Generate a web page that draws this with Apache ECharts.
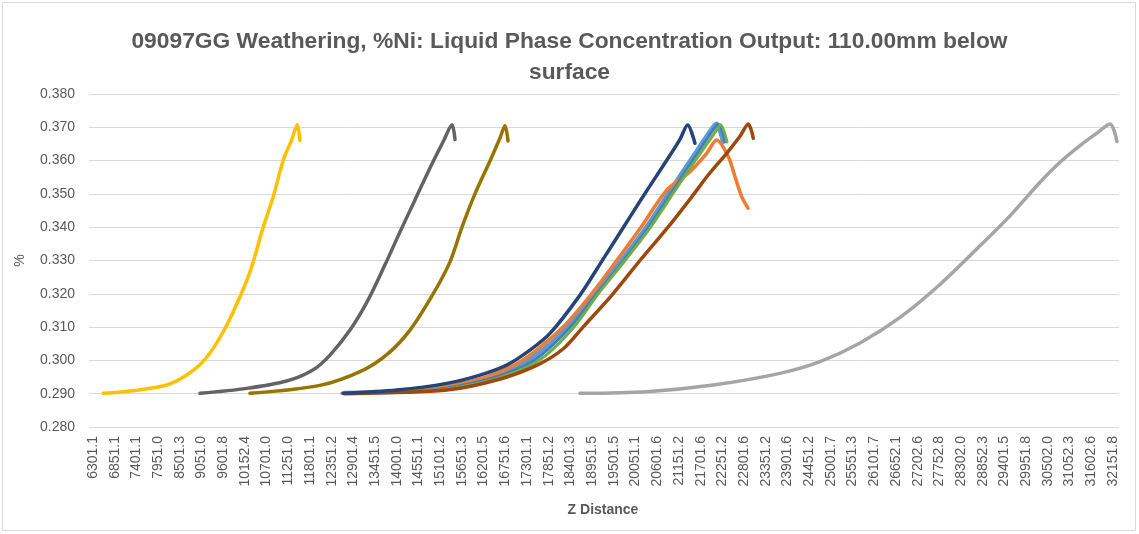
<!DOCTYPE html>
<html>
<head>
<meta charset="utf-8">
<title>09097GG Weathering</title>
<script src="https://cdn.jsdelivr.net/npm/echarts@6/dist/echarts.min.js"></script>
<style>
  html, body { margin: 0; padding: 0; background: #fff; }
  #chart { width: 1139px; height: 534px; }
</style>
</head>
<body>
<div id="chart"></div>
<script>
// category labels shown under the plot (Z Distance)
const zLabels = [
  "6301.1", "6851.1", "7401.1", "7951.0", "8501.3", "9051.0", "9601.8", "10152.4",
  "10701.0", "11251.0", "11801.1", "12351.2", "12901.4", "13451.5", "14001.0", "14551.1",
  "15101.2", "15651.3", "16201.5", "16751.6", "17301.1", "17851.2", "18401.3", "18951.5",
  "19501.5", "20051.1", "20601.6", "21151.2", "21701.6", "22251.2", "22801.6", "23351.2",
  "23901.6", "24451.2", "25001.7", "25551.3", "26101.7", "26652.1", "27202.6", "27752.8",
  "28302.0", "28852.3", "29401.5", "29951.8", "30502.0", "31052.3", "31602.6", "32151.8"
];

const yTicks = [0.28, 0.29, 0.30, 0.31, 0.32, 0.33, 0.34, 0.35, 0.36, 0.37, 0.38];

// [Z distance, %Ni]
const lightBlue = [[12688,0.2901],[14842,0.2913],[16109,0.2941],[16953,0.2976],[17546,0.3016],[18340,0.3100],[19024,0.3200],[19701,0.3300],[20334,0.3400],[21008,0.3522],[21515,0.3612],[22022,0.3700],[22108,0.3710],[22275,0.3657]];
const orange = [[12612,0.2901],[14842,0.2914],[16109,0.2944],[16920,0.2982],[17478,0.3025],[18213,0.3100],[18940,0.3200],[19574,0.3300],[20190,0.3400],[20848,0.3512],[21431,0.3567],[21855,0.3622],[22108,0.3662],[22402,0.3612],[22572,0.3552],[22742,0.3492],[22901,0.3457]];
const lightGray = [[18644,0.2901],[20334,0.2906],[22022,0.2926],[23712,0.2961],[24726,0.2996],[25740,0.3052],[26754,0.3129],[27767,0.3228],[28781,0.3344],[29541,0.3434],[30302,0.3535],[30809,0.3595],[31316,0.3645],[31739,0.3682],[32076,0.3710],[32253,0.3657]];
const yellow = [[6562,0.2901],[7322,0.2909],[8169,0.2926],[8676,0.2956],[9140,0.3003],[9603,0.3086],[10027,0.3191],[10323,0.3281],[10617,0.3401],[10871,0.3492],[11124,0.3602],[11337,0.3662],[11479,0.3708],[11547,0.3660]];
const midBlue = [[12713,0.2901],[14969,0.2913],[16236,0.2941],[17072,0.2975],[17655,0.3015],[18390,0.3099],[19062,0.3200],[19746,0.3300],[20380,0.3401],[21044,0.3519],[21558,0.3611],[22065,0.3700],[22154,0.3709],[22318,0.3656]];
const green = [[12764,0.2901],[15095,0.2912],[16363,0.2940],[17174,0.2974],[17757,0.3013],[18466,0.3097],[19100,0.3199],[19784,0.3300],[20418,0.3398],[21077,0.3515],[21609,0.3608],[22090,0.3689],[22204,0.3708],[22369,0.3656]];
const brown = [[12814,0.2901],[15265,0.2911],[16532,0.2941],[17546,0.2985],[18220,0.3035],[18720,0.3100],[19480,0.3200],[20164,0.3300],[20874,0.3400],[21482,0.3492],[21888,0.3556],[22361,0.3622],[22699,0.3673],[22909,0.3710],[23036,0.3667]];
const darkGray = [[9013,0.2901],[10197,0.2916],[11210,0.2938],[11884,0.2972],[12308,0.3016],[12815,0.3091],[13271,0.3181],[13701,0.3287],[14082,0.3386],[14462,0.3482],[14842,0.3578],[15197,0.3662],[15400,0.3708],[15476,0.3663]];
const darkGold = [[10280,0.2901],[12054,0.2925],[13152,0.2971],[13785,0.3021],[14335,0.3091],[14918,0.3199],[15349,0.3296],[15653,0.3400],[15982,0.3500],[16363,0.3599],[16616,0.3668],[16743,0.3705],[16819,0.3659]];
const navy = [[12645,0.2901],[13998,0.2911],[15265,0.2931],[16109,0.2956],[16786,0.2986],[17376,0.3031],[17883,0.3081],[18643,0.3196],[19234,0.3305],[19741,0.3399],[20164,0.3478],[20587,0.3555],[20924,0.3616],[21177,0.3664],[21372,0.3707],[21557,0.3652]];

// drawing order follows the Excel palette order
const seriesList = [
  { data: lightBlue, color: "#5B9BD5", width: 5 },
  { data: orange,    color: "#ED7D31", width: 3.5 },
  { data: lightGray, color: "#A5A5A5", width: 3.5 },
  { data: yellow,    color: "#FFC000", width: 3.5 },
  { data: midBlue,   color: "#3F7CC0", width: 2.5 },
  { data: green,     color: "#70AD47", width: 3 },
  { data: brown,     color: "#9E480E", width: 3.5 },
  { data: darkGray,  color: "#636363", width: 3.5 },
  { data: darkGold,  color: "#997300", width: 3.5 },
  { data: navy,      color: "#264478", width: 3.5 }
];

const font = "'Liberation Sans', Arial, sans-serif";
const textColor = "#595959";

const chart = echarts.init(document.getElementById("chart"));

chart.setOption({
  backgroundColor: "#fff",
  animation: false,
  title: {
    text: "09097GG Weathering, %Ni: Liquid Phase Concentration Output: 110.00mm below\nsurface",
    left: "center",
    top: 21,
    textStyle: { fontFamily: font, fontSize: 22.8, fontWeight: "bold", color: textColor, lineHeight: 31 }
  },
  graphic: [{
    type: "rect",
    shape: { x: 2.5, y: 2.5, width: 1133, height: 528 },
    style: { fill: null, stroke: "#D9D9D9", lineWidth: 1 },
    silent: true
  }],
  grid: [
    { left: 89, right: 20, top: 94, bottom: 107 },
    { left: 93, right: 26, top: 94, bottom: 107 }
  ],
  xAxis: [
    { type: "value", gridIndex: 0, min: 6200, max: 32304, show: false },
    {
      type: "category", gridIndex: 1, data: zLabels, boundaryGap: false,
      name: "Z Distance", nameLocation: "middle", nameGap: 76,
      nameTextStyle: { fontFamily: font, fontSize: 14, fontWeight: "bold", color: textColor },
      axisLine: { show: false }, axisTick: { show: false },
      axisLabel: { rotate: 90, interval: 0, margin: 9, fontFamily: font, fontSize: 14, color: textColor }
    }
  ],
  yAxis: [
    {
      type: "value", gridIndex: 0, min: yTicks[0], max: yTicks[yTicks.length - 1], interval: 0.01,
      name: "%", nameLocation: "middle", nameGap: 62,
      nameTextStyle: { fontFamily: font, fontSize: 14, color: textColor },
      axisLine: { show: false }, axisTick: { show: false },
      axisLabel: { margin: 14, fontFamily: font, fontSize: 14, color: textColor, formatter: v => v.toFixed(3) },
      splitLine: { lineStyle: { color: "#D9D9D9", width: 1 } }
    },
    { type: "value", gridIndex: 1, show: false, min: 0, max: 1 }
  ],
  series: seriesList.map(s => ({
    type: "line",
    xAxisIndex: 0,
    yAxisIndex: 0,
    data: s.data,
    showSymbol: false,
    smooth: 0.3,
    lineStyle: { color: s.color, width: s.width, cap: "round", join: "round" },
    itemStyle: { color: s.color }
  }))
});
</script>
</body>
</html>
